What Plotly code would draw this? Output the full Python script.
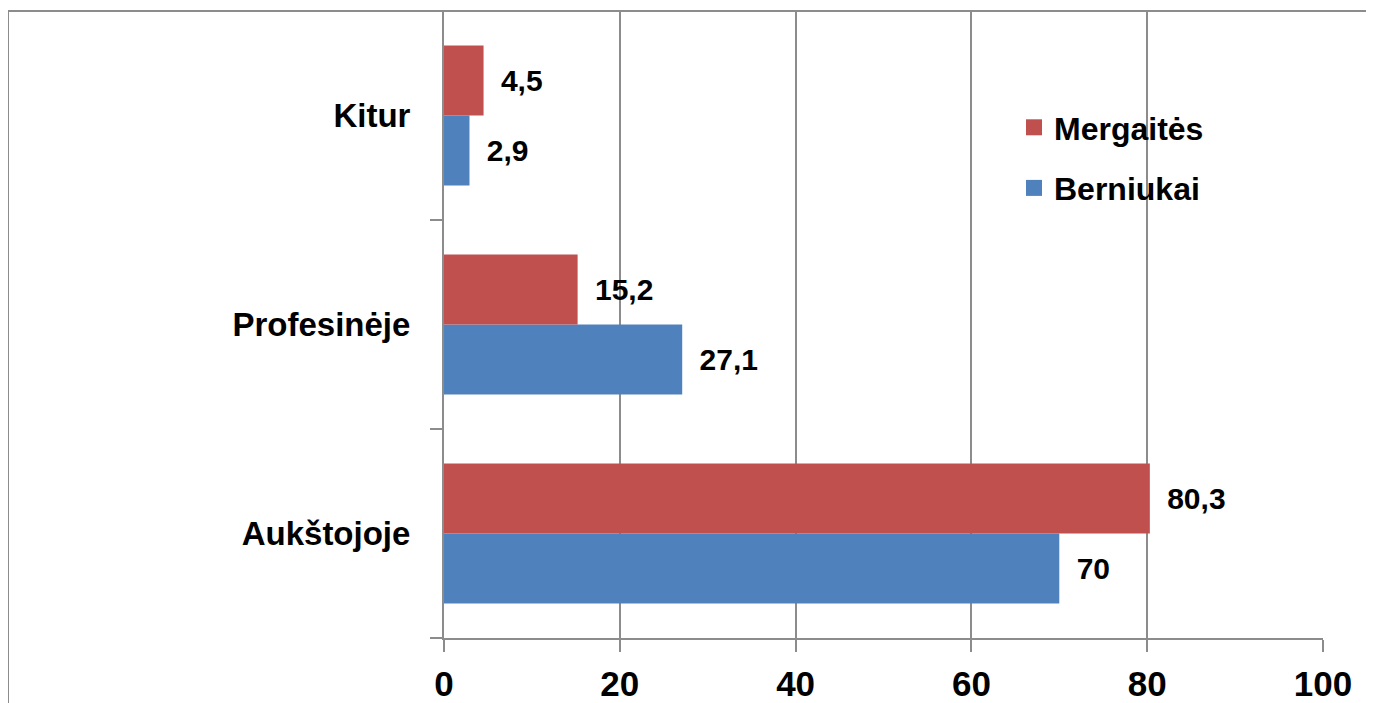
import plotly.graph_objects as go

categories = ["Aukštojoje", "Profesinėje", "Kitur"]
berniukai = [70, 27.1, 2.9]
mergaites = [80.3, 15.2, 4.5]
x_ticks = [0, 20, 40, 60, 80, 100]

BLUE = "#4F81BD"
RED = "#C0504D"
GRID = "#8C8C8C"
FONT = "Liberation Sans, Arial, sans-serif"

L, R, T, B = 436, 59, 3, 73
PW = 1374 - L - R
PH = 703 - T - B

label_font = dict(family=FONT, size=30, color="black", weight="bold")

fig = go.Figure()
fig.add_trace(go.Bar(
    y=categories, x=berniukai, orientation="h", name="Berniukai",
    marker=dict(color=BLUE, line=dict(width=0)), showlegend=False,
    texttemplate="\u00a0\u2009%{x}", textposition="outside", cliponaxis=False,
    textfont=label_font,
))
fig.add_trace(go.Bar(
    y=categories, x=mergaites, orientation="h", name="Mergaitės",
    marker=dict(color=RED, line=dict(width=0)), showlegend=False,
    texttemplate="\u00a0\u2009%{x}", textposition="outside", cliponaxis=False,
    textfont=label_font,
))
# legend-only entries (larger square swatches), Mergaitės listed first
fig.add_trace(go.Scatter(
    x=[None], y=[None], mode="markers", name="Mergaitės", legendgroup="m",
    marker=dict(symbol="square", size=16, color=RED),
))
fig.add_trace(go.Scatter(
    x=[None], y=[None], mode="markers", name="Berniukai", legendgroup="b",
    marker=dict(symbol="square", size=16, color=BLUE),
))

fig.update_layout(
    width=1374, height=703,
    margin=dict(l=L, r=R, t=T, b=B, autoexpand=False),
    paper_bgcolor="white", plot_bgcolor="white",
    barmode="group", bargap=0.33, bargroupgap=0,
    separators=",.",
    font=dict(family=FONT, color="black"),
    showlegend=True,
    legend=dict(
        traceorder="grouped", tracegroupgap=16,
        x=(1006 - L) / PW, y=1 - (92 - T) / PH, xanchor="left", yanchor="top",
        font=dict(family=FONT, size=32, color="black", weight="bold"),
        bgcolor="rgba(0,0,0,0)", itemwidth=30,
    ),
    xaxis=dict(
        range=[0, 100], tickvals=x_ticks, ticktext=[str(v) for v in x_ticks],
        showgrid=True, gridcolor=GRID, gridwidth=2,
        showline=True, linecolor=GRID, linewidth=2,
        ticks="outside", ticklen=12, tickwidth=2, tickcolor=GRID,
        tickfont=dict(family=FONT, size=35, color="black", weight="bold"),
        zeroline=False, ticklabelstandoff=2, automargin=False,
    ),
    yaxis=dict(
        categoryorder="array", categoryarray=categories,
        showline=True, linecolor=GRID, linewidth=2,
        ticks="outside", ticklen=12, tickwidth=2, tickcolor=GRID,
        tickson="boundaries", showgrid=False,
        tickfont=dict(family=FONT, size=33, color="black", weight="bold"),
        ticklabelstandoff=25, automargin=False,
    ),
    shapes=[dict(
        type="rect", xref="paper", yref="paper",
        x0=(0 - L) / PW, x1=(1360 - L) / PW, y0=-0.5, y1=1.0,
        line=dict(color=GRID, width=2), fillcolor="rgba(0,0,0,0)", layer="below",
    )],
)

fig.write_html("out.html")
